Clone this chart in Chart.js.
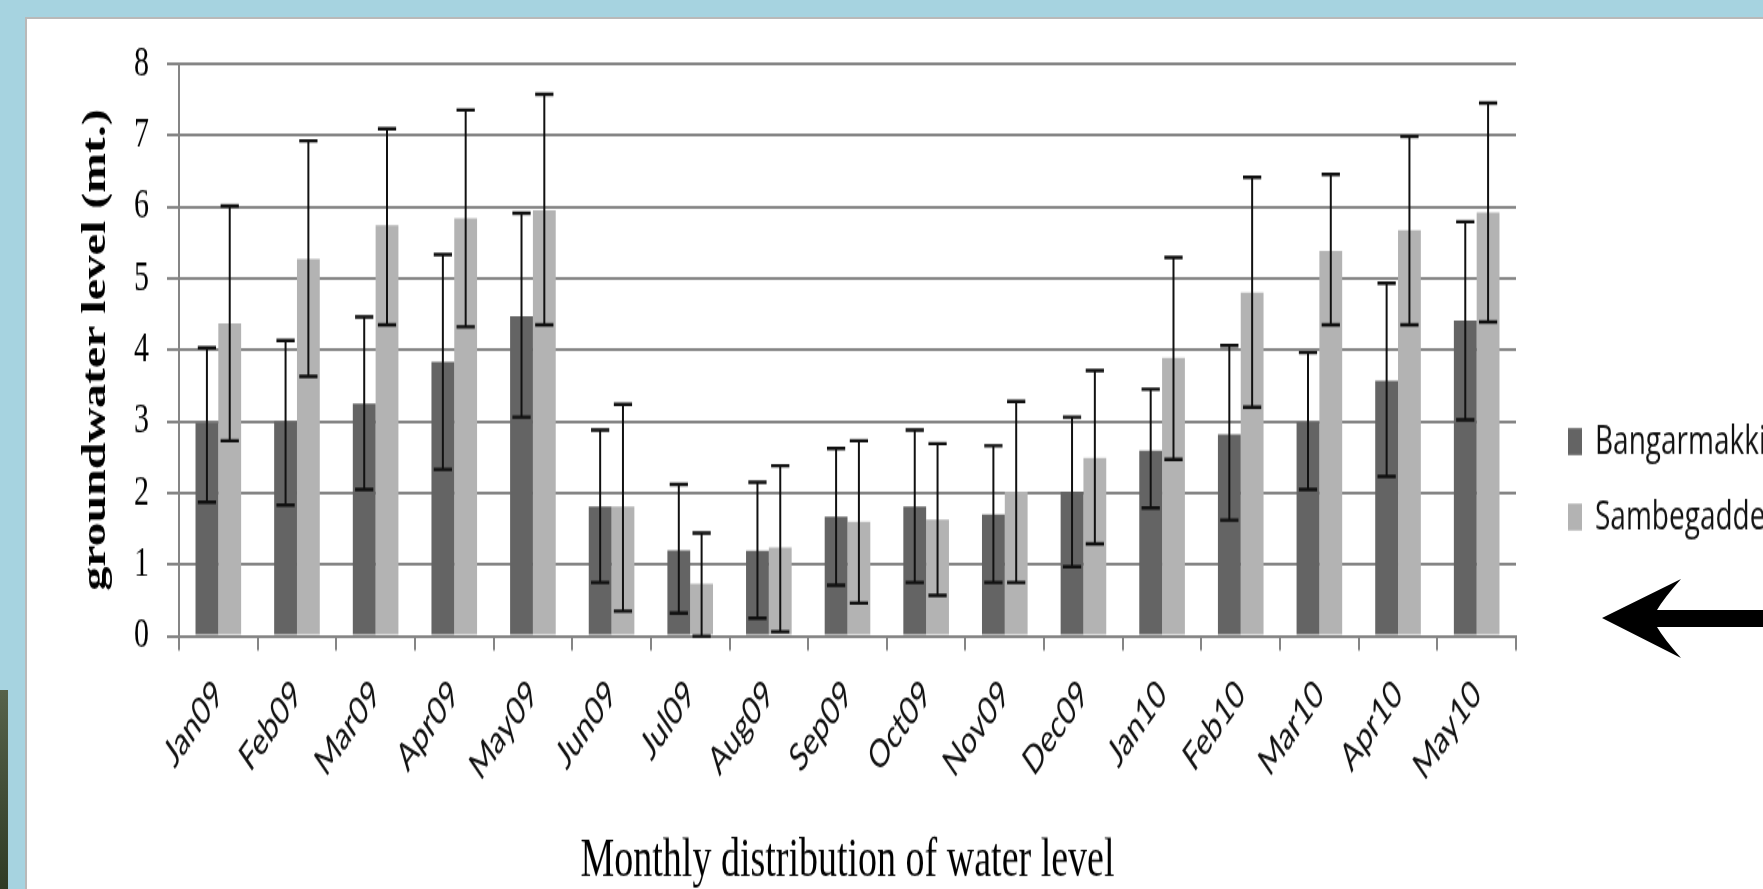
<!DOCTYPE html>
<html>
<head>
<meta charset="utf-8">
<script src="https://cdn.jsdelivr.net/npm/chart.js@4.4.1/dist/chart.umd.min.js"></script>
<style>
    html, body { margin: 0; padding: 0; }
    body { width: 1763px; height: 889px; overflow: hidden; position: relative; background: #a6d3e0; }
    .strip { position: absolute; left: 0; top: 690px; width: 8px; height: 199px; background: linear-gradient(#56624a, #2f3b25); }
    .panel { position: absolute; left: 25px; top: 17px; width: 1760px; height: 900px; background: #fff; border-left: 2px solid #b9b9b9; border-top: 2px solid #b9b9b9; box-sizing: border-box; }
    #chart { position: absolute; left: 0; top: 0; }
    svg { position: absolute; left: 0; top: 0; }
</style>
</head>
<body>
<div class="strip"></div>
<div class="panel"></div>
<!-- the original figure is vertically stretched, so the canvas is drawn short and stretched by css -->
<canvas id="chart" width="1763" height="613" style="width:1763px;height:889px"></canvas>
<svg width="1763" height="889">
    <path d="M1602 618 L1681 579 Q1664 598 1657 610 L1763 610 L1763 627 L1657 627 Q1664 639 1681 658 Z" fill="#000"/>
</svg>
<script>
const months = ['Jan09', 'Feb09', 'Mar09', 'Apr09', 'May09', 'Jun09', 'Jul09', 'Aug09', 'Sep09',
    'Oct09', 'Nov09', 'Dec09', 'Jan10', 'Feb10', 'Mar10', 'Apr10', 'May10'];

const bangarmakki = [2.98, 3.00, 3.25, 3.83, 4.47, 1.81, 1.20, 1.19, 1.67, 1.81, 1.70, 2.02, 2.59, 2.82, 2.99, 3.57, 4.41];
const bangarmakkiLow = [1.87, 1.83, 2.05, 2.33, 3.06, 0.75, 0.32, 0.25, 0.71, 0.75, 0.75, 0.97, 1.79, 1.62, 2.05, 2.23, 3.02];
const bangarmakkiHigh = [4.03, 4.13, 4.46, 5.33, 5.91, 2.88, 2.12, 2.15, 2.62, 2.88, 2.66, 3.06, 3.45, 4.06, 3.96, 4.93, 5.79];

const sambegadde = [4.37, 5.27, 5.74, 5.84, 5.95, 1.81, 0.73, 1.24, 1.60, 1.63, 2.02, 2.49, 3.89, 4.80, 5.38, 5.67, 5.92];
const sambegaddeLow = [2.73, 3.63, 4.35, 4.32, 4.35, 0.35, 0.00, 0.06, 0.46, 0.57, 0.75, 1.29, 2.47, 3.20, 4.35, 4.35, 4.39];
const sambegaddeHigh = [6.01, 6.92, 7.09, 7.35, 7.57, 3.24, 1.44, 2.38, 2.73, 2.69, 3.28, 3.71, 5.29, 6.41, 6.45, 6.98, 7.45];

const yTitle = 'groundwater level (mt.)';
const xTitle = 'Monthly distribution of water level';

const serif = "'Liberation Serif', 'Times New Roman', serif";
const sans = "Lato, 'Open Sans', sans-serif";
const legendFont = "'Open Sans', Lato, sans-serif";
const gridGray = '#858585';

// error bars drawn from each dataset's low/high arrays
const errorBars = {
    id: 'errorBars',
    afterDatasetsDraw(chart) {
        const ctx = chart.ctx;
        const y = chart.scales.y;
        chart.data.datasets.forEach((ds, i) => {
            chart.getDatasetMeta(i).data.forEach((bar, j) => {
                const top = y.getPixelForValue(ds.errHigh[j]);
                const bottom = y.getPixelForValue(ds.errLow[j]);
                const half = bar.width * 0.4;
                ctx.save();
                ctx.strokeStyle = '#111';
                ctx.lineWidth = 2;
                ctx.beginPath();
                ctx.moveTo(bar.x, top);
                ctx.lineTo(bar.x, bottom);
                ctx.stroke();
                ctx.lineWidth = 2.4;
                ctx.beginPath();
                ctx.moveTo(bar.x - half, top);
                ctx.lineTo(bar.x + half, top);
                ctx.moveTo(bar.x - half, bottom);
                ctx.lineTo(bar.x + half, bottom);
                ctx.stroke();
                ctx.restore();
            });
        });
    }
};

// legend sits right of the plot, lower than centre
const sideLegend = {
    id: 'sideLegend',
    afterDraw(chart) {
        const ctx = chart.ctx;
        const rows = [304.5, 356.5];
        chart.data.datasets.forEach((ds, i) => {
            ctx.save();
            ctx.fillStyle = ds.backgroundColor;
            ctx.fillRect(1568, rows[i] - 9.3, 14, 18.6);
            ctx.fillStyle = '#111';
            ctx.font = '28px ' + legendFont;
            ctx.textBaseline = 'middle';
            ctx.fillText(ds.label, 1595, rows[i] + 1);
            ctx.restore();
        });
    }
};

const ctx = document.getElementById('chart').getContext('2d');
new Chart(ctx, {
    type: 'bar',
    data: {
        labels: months,
        datasets: [
            {
                label: 'Bangarmakki',
                data: bangarmakki,
                errLow: bangarmakkiLow,
                errHigh: bangarmakkiHigh,
                backgroundColor: '#646464'
            },
            {
                label: 'Sambegadde',
                data: sambegadde,
                errLow: sambegaddeLow,
                errHigh: sambegaddeHigh,
                backgroundColor: '#b3b3b3'
            }
        ]
    },
    options: {
        responsive: false,
        devicePixelRatio: 1,
        animation: false,
        layout: { padding: { left: 0, top: 43.8, right: 247, bottom: 0 } },
        datasets: { bar: { categoryPercentage: 0.58, barPercentage: 1.0 } },
        plugins: {
            legend: { display: false },
            tooltip: { enabled: false }
        },
        scales: {
            x: {
                afterFit: (scale) => { scale.height = 613 - 438.6; },
                grid: { offset: true, drawOnChartArea: false, drawTicks: true, tickLength: 10, color: gridGray, lineWidth: 2 },
                border: { display: true, color: gridGray, width: 2 },
                ticks: { minRotation: 45, maxRotation: 45, padding: 14, color: '#111', font: { family: sans, size: 27 } },
                title: {
                    display: true,
                    text: xTitle,
                    color: '#000',
                    padding: { top: 0, bottom: 0 },
                    font: { family: serif, size: 38, lineHeight: 1.0 }
                }
            },
            y: {
                min: 0,
                max: 8,
                afterFit: (scale) => { scale.width = 179; },
                grid: { color: gridGray, lineWidth: 2, tickLength: 12 },
                border: { display: true, color: gridGray, width: 2 },
                ticks: { stepSize: 1, padding: 18, color: '#000', font: { family: serif, size: 30 } },
                title: {
                    display: true,
                    text: yTitle,
                    color: '#000',
                    padding: { top: 77, bottom: 0 },
                    font: { family: serif, size: 33, weight: 'bold' }
                }
            }
        }
    },
    plugins: [errorBars, sideLegend]
});
</script>
</body>
</html>
